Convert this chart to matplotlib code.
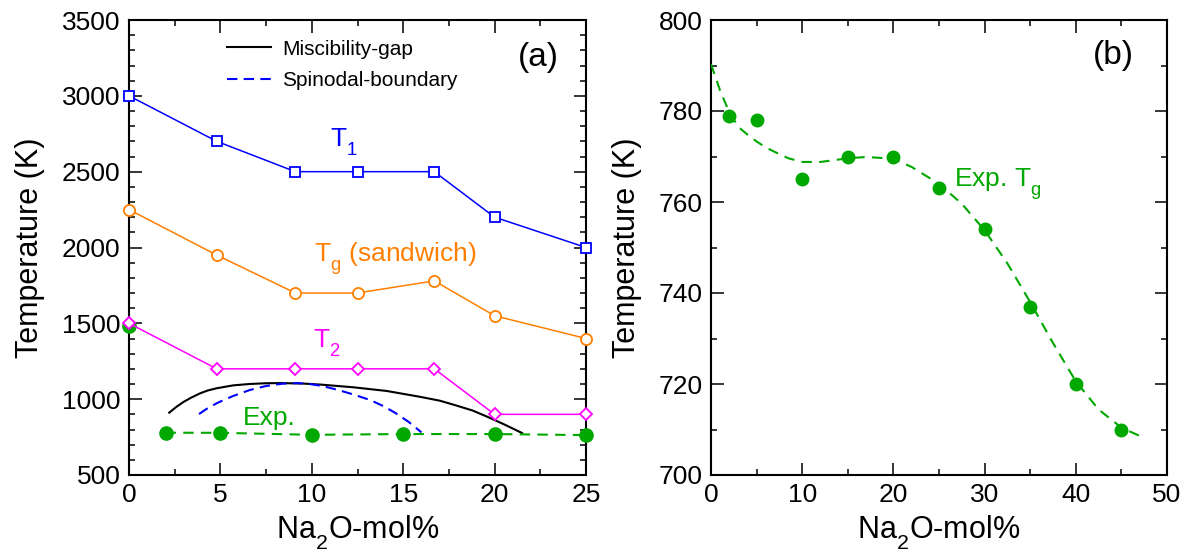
import matplotlib
matplotlib.use('Agg')
import matplotlib.pyplot as plt
from matplotlib.ticker import MultipleLocator

plt.rcParams['font.family'] = ['Liberation Sans', 'DejaVu Sans']
plt.rcParams['mathtext.fontset'] = 'custom'
plt.rcParams['mathtext.rm'] = 'Liberation Sans'
plt.rcParams['mathtext.it'] = 'Liberation Sans'

# subscripts sit lower in the original figure
try:
    import matplotlib._mathtext as _mt
    _mt.FontConstantsBase.sub1 = 0.65
except Exception:
    pass

# ---- panel (a) data ----
x_sim = [0, 4.8, 9.1, 12.5, 16.7, 20, 25]
t1 = [3000, 2700, 2500, 2500, 2500, 2200, 2000]
tg_sandwich = [2250, 1950, 1700, 1700, 1780, 1550, 1400]
t2 = [1500, 1200, 1200, 1200, 1200, 900, 900]

x_exp = [2, 5, 10, 15, 20, 25]
tg_exp = [779, 778, 765, 770, 770, 763]
x_exp0 = [0]
tg_exp0 = [1480]

x_misc = [2.2, 2.6, 3.0, 3.4, 3.9, 4.3, 4.8, 5.7, 6.6, 7.5, 8.3, 9.5, 10.5, 12.3, 14.1, 15.9, 17.0, 17.8, 18.8, 19.6, 20.5, 21.5]
t_misc = [911, 950, 983, 1010, 1039, 1057, 1072, 1091, 1100, 1105, 1106, 1103, 1096, 1078, 1054, 1016, 990, 962, 925, 884, 835, 777]

x_spin = [3.83, 4.3, 4.8, 5.25, 5.7, 6.6, 7.5, 8.4, 9.2, 9.9, 10.6, 11.4, 12.3, 13.2, 13.9, 14.6, 15.3, 16.0]
t_spin = [902, 940, 973, 998, 1021, 1060, 1087, 1102, 1106, 1100, 1086, 1062, 1030, 994, 955, 907, 850, 781]

# ---- panel (b) data ----
x_b = [2, 5, 10, 15, 20, 25, 30, 35, 40, 45]
tg_b = [779, 778, 765, 770, 770, 763, 754, 737, 720, 710]

x_fit = [0, 1, 2, 3, 4, 5, 6, 7, 8.5, 10, 12, 15, 17, 20, 22, 25, 27.5, 30, 32.5, 35, 37.5, 40, 42.5, 45, 47]
t_fit = [790.3, 784.5, 779.7, 776.5, 774.8, 773.3, 772.0, 771.0, 769.6, 768.8, 768.8, 769.6, 769.9, 769.5, 767.7, 764.0, 759.6, 753.8, 746.5, 738.0, 729.0, 720.6, 714.4, 710.4, 708.6]

BLUE = '#0000ff'
ORANGE = '#ff7f00'
MAGENTA = '#ff00ff'
GREEN = '#00a800'

fig = plt.figure(figsize=(11.88, 5.56), dpi=100)
ax1 = fig.add_axes([129 / 1188, 81 / 556, 457 / 1188, 455 / 556])
ax2 = fig.add_axes([711 / 1188, 81 / 556, 456 / 1188, 455 / 556])


def style_axis(ax):
    for s in ax.spines.values():
        s.set_linewidth(1.5)
    ax.tick_params(which='both', direction='in', top=True, right=True,
                   labelsize=19, pad=6, width=1.1)
    ax.tick_params(which='major', length=9)
    ax.tick_params(which='minor', length=4.5)


# panel (a)
ax1.plot(x_sim, t1, color=BLUE, lw=1.1, marker='s', ms=7.5, mfc='white',
         mec=BLUE, mew=1.3, clip_on=False, zorder=4)
ax1.plot(x_sim, tg_sandwich, color=ORANGE, lw=1.1, marker='o', ms=8, mfc='white',
         mec=ORANGE, mew=1.3, clip_on=False, zorder=4)
ax1.plot(x_exp0, tg_exp0, ls='none', marker='o', ms=9.5, color=GREEN, clip_on=False, zorder=4)
ax1.plot(x_sim, t2, color=MAGENTA, lw=1.1, marker='D', ms=6.5, mfc='white',
         mec=MAGENTA, mew=1.3, clip_on=False, zorder=5)
ax1.plot(x_misc, t_misc, color='black', lw=1.5, label='Miscibility-gap', zorder=3)
ax1.plot(x_spin, t_spin, color=BLUE, lw=1.5, ls=(0, (5, 3)), label='Spinodal-boundary', zorder=3)
ax1.plot(x_exp, tg_exp, color=GREEN, lw=1.5, ls=(0, (5, 3.5)), marker='o', ms=9.5,
         mec=GREEN, mfc=GREEN, clip_on=False, zorder=5)

ax1.set_xlim(0, 25)
ax1.set_ylim(500, 3500)
ax1.xaxis.set_major_locator(MultipleLocator(5))
ax1.xaxis.set_minor_locator(MultipleLocator(2.5))
ax1.yaxis.set_major_locator(MultipleLocator(500))
ax1.yaxis.set_minor_locator(MultipleLocator(100))
style_axis(ax1)
ax1.set_xlabel('Na$_2$O-mol%', fontsize=22, labelpad=5)
ax1.set_ylabel('Temperature (K)', fontsize=22, labelpad=12)

leg = ax1.legend(loc='upper left', bbox_to_anchor=(0.215, 0.957), frameon=False,
                 fontsize=15, handlelength=2.1, handletextpad=0.55,
                 borderpad=0, borderaxespad=0, labelspacing=0.6)

ax1.text(11.0, 2665, 'T$_1$', color=BLUE, fontsize=19, ha='left', va='baseline')
ax1.text(10.1, 1906, 'T$_g$ (sandwich)', color=ORANGE, fontsize=19, ha='left', va='baseline')
ax1.text(10.05, 1339, 'T$_2$', color=MAGENTA, fontsize=19, ha='left', va='baseline')
ax1.text(6.25, 830, 'Exp.', color=GREEN, fontsize=19, ha='left', va='baseline')
ax1.text(22.4, 3250, '(a)', color='black', fontsize=24, ha='center', va='center')

# panel (b)
ax2.plot(x_fit, t_fit, color=GREEN, lw=1.5, ls=(0, (5, 3.5)), zorder=3)
ax2.plot(x_b, tg_b, ls='none', marker='o', ms=9, color=GREEN, zorder=4)
ax2.set_xlim(0, 50)
ax2.set_ylim(700, 800)
ax2.xaxis.set_major_locator(MultipleLocator(10))
ax2.xaxis.set_minor_locator(MultipleLocator(5))
ax2.yaxis.set_major_locator(MultipleLocator(20))
ax2.yaxis.set_minor_locator(MultipleLocator(10))
style_axis(ax2)
ax2.set_xlabel('Na$_2$O-mol%', fontsize=22, labelpad=5)
ax2.set_ylabel('Temperature (K)', fontsize=22, labelpad=12)
ax2.text(26.6, 763.4, 'Exp. T$_g$', color=GREEN, fontsize=19, ha='left', va='baseline')
ax2.text(44.1, 792.3, '(b)', color='black', fontsize=24, ha='center', va='center')

fig.savefig('out.png', dpi=100)
